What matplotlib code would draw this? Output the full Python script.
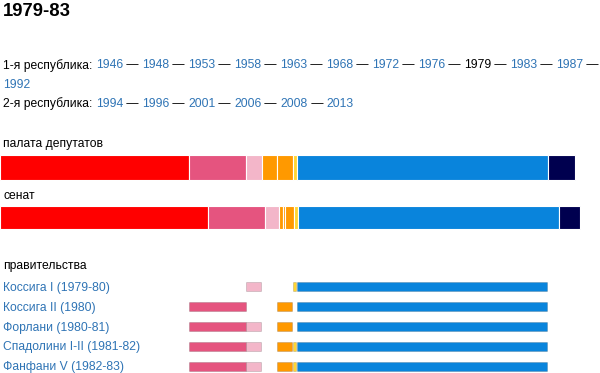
import numpy as np
import matplotlib
matplotlib.use("Agg")
import matplotlib.pyplot as plt

plt.rcParams['font.family'] = ['Liberation Sans', 'DejaVu Sans']

# seats per block, left to right (chamber 630, senate drawn at double width)
blocks = ['PCI', 'PSI', 'PSDI', 'PR', 'PRI', 'PLI', 'DC', 'MSI']
block_colors = ['#ff0000', '#e5547f', '#f3b6c9', '#ff9900', '#ff9900', '#ffd633', '#0984dc', '#00004f']
chamber_seats = [207, 63, 17, 17, 17, 4, 275, 30]

senate_colors = ['#ff0000', '#e5547f', '#f3b6c9', '#ff9900', '#ff9900', '#ff9900', '#ffd633', '#0984dc', '#00004f']
senate_seats = [114, 31, 8, 2, 1, 5, 2, 143, 12]

governments = ['Коссига I (1979-80)', 'Коссига II (1980)', 'Форлани (1980-81)',
               'Спадолини I-II (1981-82)', 'Фанфани V (1982-83)']
gov_parties = [
    ['PSDI', 'PLI', 'DC'],
    ['PSI', 'PRI', 'DC'],
    ['PSI', 'PSDI', 'PRI', 'DC'],
    ['PSI', 'PSDI', 'PRI', 'PLI', 'DC'],
    ['PSI', 'PSDI', 'PRI', 'PLI', 'DC'],
]

rep1_years = ['1946', '1948', '1953', '1958', '1963', '1968', '1972', '1976', '1979', '1983', '1987', '1992']
rep2_years = ['1994', '1996', '2001', '2006', '2008', '2013']
current = '1979'

link = '#2f74b5'
W, H = 600, 373
fig = plt.figure(figsize=(6, 3.73), dpi=100)
ax = fig.add_axes([0, 0, 1, 1])
ax.set_xlim(0, W * 630 / 575)
ax.set_ylim(H, 0)
ax.axis('off')


def put(x, y, s, **kw):
    return fig.text(x / W, 1 - y / H, s, va='baseline', **kw)


renderer = fig.canvas.get_renderer()


def write_run(x, y, pieces, size):
    for s, c in pieces:
        t = put(x, y, s, color=c, fontsize=size)
        x += t.get_window_extent(renderer).width
    return x


put(3, 15.5, '1979-83', fontsize=13.3, fontweight='bold')

fs = 8.7
pieces = [('1-я республика: ', 'black')]
for i, yr in enumerate(rep1_years[:-1]):
    pieces.append((yr, 'black' if yr == current else link))
    pieces.append((' — ', 'black'))
pieces[-1] = (' —', 'black')
write_run(3, 68.5, pieces, fs)
write_run(3, 88, [(rep1_years[-1], link)], fs)

pieces = [('2-я республика: ', 'black')]
for i, yr in enumerate(rep2_years):
    pieces.append((yr, link))
    if i < len(rep2_years) - 1:
        pieces.append((' — ', 'black'))
write_run(3, 107, pieces, fs)

# chamber and senate
put(3, 147.5, 'палата депутатов', fontsize=fs)
left = np.concatenate([[0], np.cumsum(chamber_seats)[:-1]])
ax.barh(167, chamber_seats, left=left, height=25, color=block_colors,
        edgecolor='white', linewidth=0.8)

put(3, 199, 'сенат', fontsize=fs)
sen_w = np.array(senate_seats) * 2
sen_left = np.concatenate([[0], np.cumsum(sen_w)[:-1]])
ax.barh(217.7, sen_w, left=sen_left, height=23.5, color=senate_colors,
        edgecolor='white', linewidth=0.8)

# governments
put(3, 268.5, 'правительства', fontsize=fs)
row_y = [286.7, 306.7, 326.5, 346.3, 366.3]
for name, members, yy in zip(governments, gov_parties, row_y):
    put(3, yy + 4, name, fontsize=fs, color=link)
    for p in members:
        k = blocks.index(p)
        ax.barh(yy, chamber_seats[k] - 1, left=left[k], height=9,
                color=block_colors[k], edgecolor='#00000030', linewidth=0.5)

fig.savefig('out.png', dpi=100)
